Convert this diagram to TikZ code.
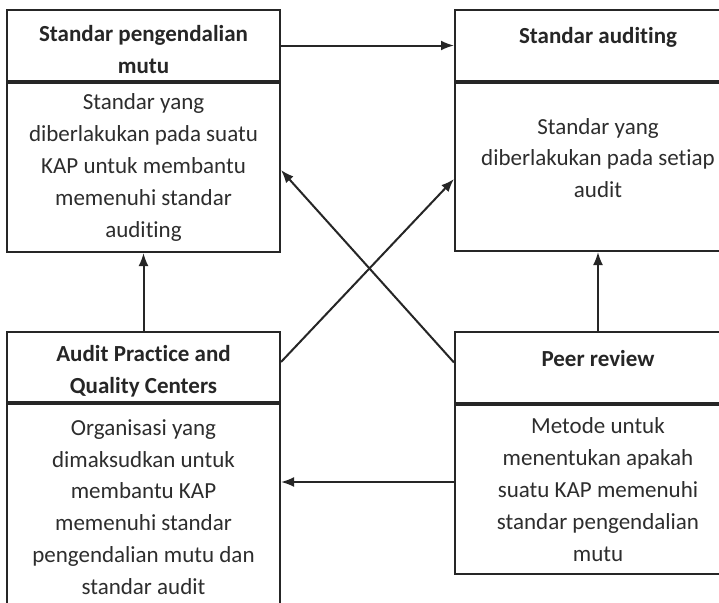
\documentclass[tikz,border=0pt]{standalone}
\usepackage{fontspec}
\setmainfont[Ligatures=NoCommon]{Carlito}
\usetikzlibrary{arrows.meta}
\definecolor{ink}{RGB}{38,38,38}
\definecolor{txt}{RGB}{45,45,45}
\newcommand{\hdstrut}{\rule{0pt}{12pt}}
\tikzset{
  box/.style={draw=ink, line width=1pt, minimum width=136.5pt, inner sep=0pt,
    align=center, text=txt, font=\fontsize{11.5}{15.9}\selectfont},
  head/.style={box, text=ink, font=\fontsize{11.5}{15.9}\selectfont\bfseries},
  arr/.style={draw=ink, line width=1pt, -{Latex[length=6.5pt,width=5pt]}},
}

\begin{document}
\begin{tikzpicture}[x=0.5pt,y=-0.5pt]
        \useasboundingbox (0,0) rectangle (719,602);
        \clip (0,0) rectangle (719,602);
        \fill [white] (0,0) rectangle (719,602);
        \node [head, minimum height=35.5pt] (tlh) at (143.5,45.5) {\hdstrut Standar pengendalian\\mutu};
        \node [box, anchor=north, minimum height=84.5pt] (tlb) at (tlh.south)
          {Standar yang\\diberlakukan pada suatu\\KAP untuk membantu\\memenuhi standar\\auditing};
        \node [head, minimum width=143pt, minimum height=35.5pt, text depth=10pt] (trh) at (598,45.5) {Standar auditing};
        \node [box, anchor=north, minimum width=143pt, minimum height=84pt, text depth=9pt] (trb) at (trh.south)
          {Standar yang\\diberlakukan pada setiap\\audit};
        \node [head, minimum height=35pt] (blh) at (143.5,367) {\hdstrut Audit Practice and\\Quality Centers};
        \node [box, anchor=north, minimum height=103pt] (blb) at (blh.south)
          {Organisasi yang\\dimaksudkan untuk\\membantu KAP\\memenuhi standar\\pengendalian mutu dan\\standar audit};
        \node [head, minimum width=143pt, minimum height=35.5pt, text depth=9.5pt] (brh) at (598,367.5) {Peer review};
        \node [box, anchor=north, minimum width=143pt, minimum height=84.5pt] (brb) at (brh.south)
          {Metode untuk\\menentukan apakah\\suatu KAP memenuhi\\standar pengendalian\\mutu};
        \path ([yshift=3.75pt]brb.west) coordinate (pr-out);
        \draw [arr] (tlh.east) -- (trh.west);
        \draw [arr] (blh.north) -- (tlb.south);
        \draw [arr] (brh.north) -- (trb.south);
        \draw [arr] ([yshift=2.5pt]blh.east) -- ([yshift=-6pt]trb.west);
        \draw [arr] ([yshift=2.5pt]brh.west) -- ([yshift=-1.25pt]tlb.east);
        \draw [arr] (pr-out) -- (pr-out -| blb.east);
      \end{tikzpicture}
\end{document}
